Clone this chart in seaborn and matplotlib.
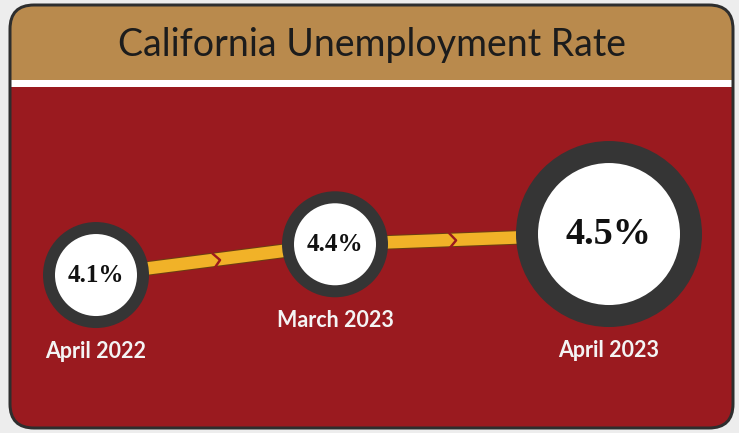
import numpy as np
import pandas as pd
import matplotlib
matplotlib.use("Agg")
import matplotlib.pyplot as plt
import matplotlib.patheffects as pe
from matplotlib.patches import FancyBboxPatch, Rectangle
from matplotlib.path import Path
from matplotlib.markers import MarkerStyle
from matplotlib.transforms import Affine2D
import seaborn as sns

# ---- data -------------------------------------------------------------
title = "California Unemployment Rate"
periods = ["April 2022", "March 2023", "April 2023"]
rates = [4.1, 4.4, 4.5]
rate_labels = ["4.1%", "4.4%", "4.5%"]

# ---- layout (pixels) --------------------------------------------------
W, H, DPI = 739, 433, 100
x_slots = [96, 335, 609]          # horizontal slot of each period
ring_r = [53, 53, 93]             # outer radius of dark ring
face_r = [41, 41, 71]             # radius of white face
value_size = [18, 18, 27.5]       # font size of value inside circle
PX = 72 / DPI                     # pixel -> point

TAN = "#B98A4D"
RED = "#9A1A1F"
RING = "#353535"
GOLD = "#F1B228"
FRAME = "#2e2e2e"

sns.set_theme(style="white")
plt.rcParams["font.family"] = ["Lato", "DejaVu Sans"]

fig = plt.figure(figsize=(W / DPI, H / DPI), dpi=DPI, facecolor="#ededed")

# background card in pixel space
bg = fig.add_axes([0, 0, 1, 1])
bg.set_xlim(0, W)
bg.set_ylim(H, 0)
bg.axis("off")

card = FancyBboxPatch((10, 5), 723, 423, boxstyle="round,pad=0,rounding_size=24",
                      facecolor=RED, edgecolor="none")
bg.add_patch(card)
header = Rectangle((10, 5), 723, 75, facecolor=TAN, edgecolor="none")
bg.add_patch(header)
header.set_clip_path(card)
stripe = Rectangle((10, 80), 723, 7, facecolor="white", edgecolor="none")
bg.add_patch(stripe)
stripe.set_clip_path(card)
bg.add_patch(FancyBboxPatch((10, 5), 723, 423, boxstyle="round,pad=0,rounding_size=24",
                            facecolor="none", edgecolor=FRAME, lw=3 * PX))
bg.text(372, 45, title, ha="center", va="center", fontsize=27, color="#1c1c1c")

# data axes: x in slot pixels, y in percent
ax = fig.add_axes([0, 0, 1, 1], facecolor="none")
ax.set_xlim(0, W)
ax.set_ylim(2.559, 6.783)
ax.axis("off")

df = pd.DataFrame({"period": periods, "rate": rates, "x": x_slots})

# connecting band
sns.lineplot(data=df, x="x", y="rate", sort=False, color=GOLD, lw=12.5 * PX,
             solid_capstyle="butt", ax=ax, zorder=2,
             path_effects=[pe.Stroke(linewidth=14.5 * PX, foreground="#6b3f12"), pe.Normal()])

# chevrons between circles
chev = Path([(-0.45, -1), (0.45, 0), (-0.45, 1)], [Path.MOVETO, Path.LINETO, Path.LINETO])
fig.canvas.draw()
for i in range(len(x_slots) - 1):
    xm = ((x_slots[i] + ring_r[i]) + (x_slots[i + 1] - ring_r[i + 1])) / 2
    ym = np.interp(xm, x_slots, rates)
    p0 = ax.transData.transform((x_slots[i], rates[i]))
    p1 = ax.transData.transform((x_slots[i + 1], rates[i + 1]))
    ang = np.degrees(np.arctan2(p1[1] - p0[1], p1[0] - p0[0]))
    m = MarkerStyle(chev, transform=Affine2D().rotate_deg(ang))
    ax.plot([xm], [ym], marker=m, markersize=16 * PX, mec=RED, mfc="none",
            mew=2.4 * PX, ls="none", zorder=2.5)

# rings and faces
sns.scatterplot(data=df, x="x", y="rate", s=[(2 * r * PX) ** 2 for r in ring_r],
                color=RING, linewidth=0, legend=False, ax=ax, zorder=3)
sns.scatterplot(data=df, x="x", y="rate", s=[(2 * r * PX) ** 2 for r in face_r],
                color="white", linewidth=0, legend=False, ax=ax, zorder=4)

for x, y, lab, per, fs, r in zip(x_slots, rates, rate_labels, periods, value_size, ring_r):
    ax.text(x, y, lab, ha="center", va="center", fontsize=fs, fontweight="bold",
            family=["Liberation Serif", "DejaVu Serif"], color="#111111", zorder=5)
    ax.annotate(per, (x, y), xytext=(0, -(r + 23) * PX), textcoords="offset points",
                ha="center", va="center", fontsize=15.5, fontweight="bold",
                color="#f4f4f4", zorder=5)

fig.savefig("out.png", dpi=DPI, facecolor=fig.get_facecolor())
